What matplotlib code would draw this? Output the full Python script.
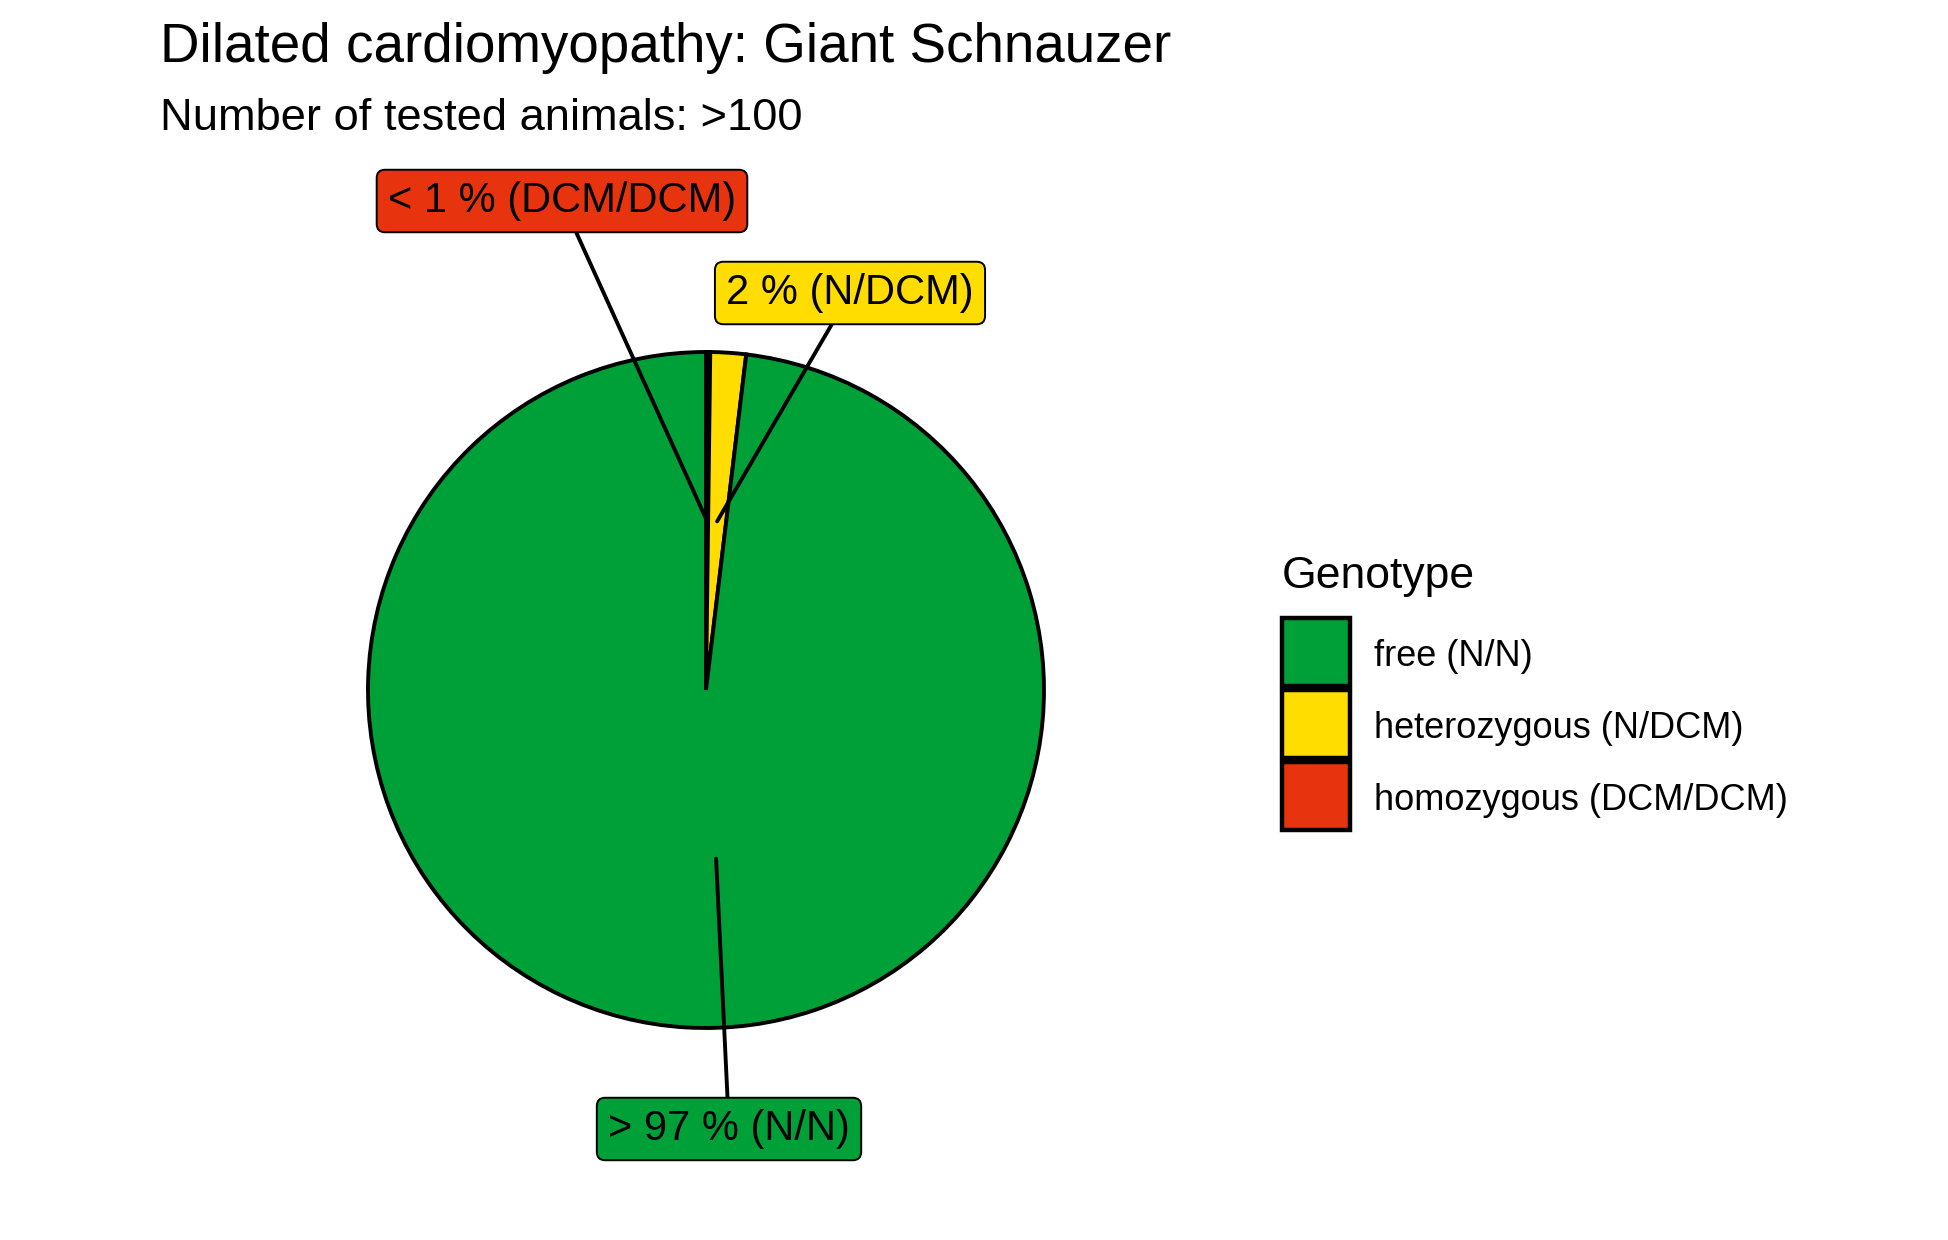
import matplotlib
matplotlib.use("Agg")
import matplotlib.pyplot as plt
from matplotlib.patches import Rectangle
import numpy as np

plt.rcParams['font.family'] = ['Liberation Sans', 'DejaVu Sans']

# ---------------- data ----------------
title = "Dilated cardiomyopathy: Giant Schnauzer"
subtitle = "Number of tested animals: >100"
legend_title = "Genotype"
categories = ["free (N/N)", "heterozygous (N/DCM)", "homozygous (DCM/DCM)"]
shares = [98.1, 1.7, 0.2]          # percent
slice_labels = ["> 97 % (N/N)", "2 % (N/DCM)", "< 1 % (DCM/DCM)"]
colors = ["#00A039", "#FFDD00", "#E8340E"]
# drawing order clockwise from 12 o'clock
plot_order = [2, 1, 0]

# ---------------- layout (pixel space) ----------------
W, H = 1948, 1240
fig = plt.figure(figsize=(W / 100, H / 100), dpi=100)
ax = fig.add_axes([0, 0, 1, 1])

cx, cy, R = 706, 550, 338

vals = [shares[i] for i in plot_order]
cols = [colors[i] for i in plot_order]
wedges, _ = ax.pie(vals, colors=cols, startangle=90, counterclock=False,
                   radius=R, center=(cx, cy),
                   wedgeprops=dict(edgecolor='black', linewidth=2.8))
ax.set_xlim(0, W)
ax.set_ylim(0, H)
ax.set_aspect('auto')
ax.axis('off')

# label box centres (layout)
label_centres = {0: (729, 1240 - 1129), 1: (850, 1240 - 293), 2: (562, 1240 - 201)}

tot = sum(shares)
# anchor positions (fraction of the circle, clockwise from top), as in the
# original chart's label computation
cum = 0.0
anchor_frac = {}
for i in plot_order:
    anchor_frac[i] = (cum + shares[i] / 2) / tot
    cum += shares[i]
anchor_frac[0] = shares[0] / 2 / tot

for i in plot_order:
    th = 2 * np.pi * anchor_frac[i]
    ax_pt = (cx + 0.5 * R * np.sin(th), cy + 0.5 * R * np.cos(th))
    ax.annotate(slice_labels[i], xy=ax_pt, xytext=label_centres[i],
                textcoords='data', ha='center', va='center', fontsize=30,
                bbox=dict(boxstyle='round,pad=0.27,rounding_size=0.2',
                          fc=colors[i], ec='black', lw=1.4),
                arrowprops=dict(arrowstyle='-', color='black', lw=2.8,
                                shrinkA=0, shrinkB=0))

# titles
fig.text(160 / W, 1 - 62 / H, title, fontsize=39.4, va='baseline', ha='left')
fig.text(160 / W, 1 - 130 / H, subtitle, fontsize=32.6, va='baseline', ha='left')

# legend (manual)
lx, key = 1282, 68
ax.text(lx, H - 588, legend_title, fontsize=32, va='baseline', ha='left')
top0 = 618
for j, lab in enumerate(categories):
    top = top0 + j * 72
    ax.add_patch(Rectangle((lx, H - top - key), key, key, fc=colors[j],
                           ec='black', lw=3.2))
    ax.text(1374, H - top - key / 2 - 4, lab, fontsize=26, va='center', ha='left')

fig.savefig("out.png", dpi=100)
